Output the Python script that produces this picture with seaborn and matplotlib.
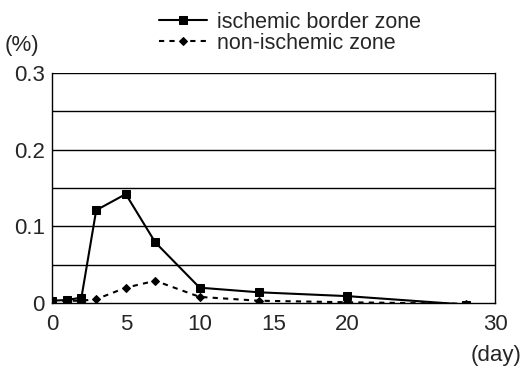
import matplotlib
matplotlib.use("Agg")
import matplotlib.pyplot as plt
import seaborn as sns
import pandas as pd

days = [0, 1, 2, 3, 5, 7, 10, 14, 20, 28]
ischemic = [0.003, 0.004, 0.007, 0.121, 0.142, 0.079, 0.020, 0.014, 0.009, -0.002]
nonischemic = [0.002, 0.003, 0.003, 0.005, 0.020, 0.029, 0.008, 0.003, 0.001, -0.001]
series_names = ["ischemic border zone", "non-ischemic zone"]
xticks = [0, 5, 10, 15, 20, 30]
yticks = [0, 0.1, 0.2, 0.3]
ytick_labels = ["0", "0.1", "0.2", "0.3"]
ygrid = [0.05, 0.1, 0.15, 0.2, 0.25, 0.3]

sns.set_theme(style="white")
plt.rcParams['font.family'] = ['Liberation Sans', 'DejaVu Sans']
FS = 16

df = pd.DataFrame({
    "day": days * 2,
    "value": ischemic + nonischemic,
    "zone": [series_names[0]] * len(days) + [series_names[1]] * len(days),
})

fig = plt.figure(figsize=(5.24, 3.70), dpi=100)
ax = fig.add_axes([0.099, 0.181, 0.846, 0.622])

for yv in ygrid:
    ax.axhline(yv, color="black", lw=1.0, zorder=1)

sns.lineplot(data=df[df.zone == series_names[0]], x="day", y="value", ax=ax,
             color="black", lw=1.5, marker="s", markersize=6, markeredgecolor="black",
             label=series_names[0], zorder=3)
sns.lineplot(data=df[df.zone == series_names[1]], x="day", y="value", ax=ax,
             color="black", lw=1.5, linestyle=(0, (2.5, 2.5)), marker="D", markersize=4,
             markeredgecolor="black", label=series_names[1], zorder=3)

ax.set_xlim(0, 30)
ax.set_ylim(0, 0.3)
ax.set_xticks(xticks)
ax.set_xticklabels([str(t) for t in xticks], fontsize=FS)
ax.set_yticks(yticks)
ax.set_yticklabels(ytick_labels, fontsize=FS)
ax.tick_params(axis="x", length=0, pad=8)
ax.tick_params(axis="y", length=0, pad=5)
ax.set_xlabel("")
ax.set_ylabel("")
for s in ["left", "right", "bottom"]:
    ax.spines[s].set_visible(True)
    ax.spines[s].set_color("black")
    ax.spines[s].set_linewidth(1.0)
ax.spines["top"].set_visible(False)

fig.text(0.996, 0.012, "(day)", ha="right", va="bottom", fontsize=FS)
fig.text(0.008, 0.877, "(%)", ha="left", va="center", fontsize=FS)

ax.get_legend().remove()
handles, labels = ax.get_legend_handles_labels()
fig.legend(handles, labels, loc="upper left", bbox_to_anchor=(0.303, 0.968),
           frameon=False, fontsize=15.5, handlelength=2.25, handletextpad=0.45,
           labelspacing=0.0, borderpad=0, borderaxespad=0)

fig.savefig("out.png", dpi=100)
